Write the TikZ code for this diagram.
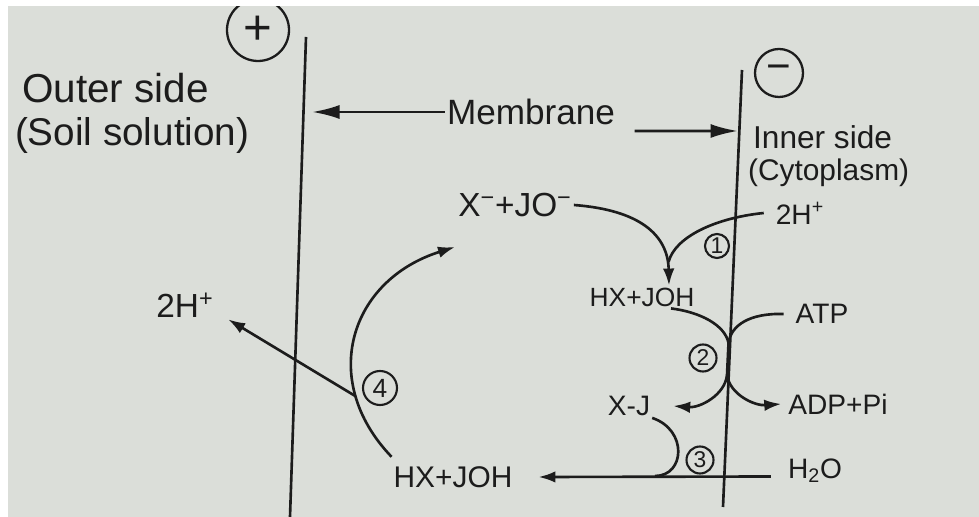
\documentclass[tikz,border=0pt]{standalone}
\usepackage{fontspec}
\setmainfont{Liberation Sans}
\usetikzlibrary{arrows.meta}
\definecolor{paper}{RGB}{219,222,217}
\definecolor{ink}{RGB}{28,28,28}
\newcommand{\fsz}[1]{\fontsize{#1}{#1}\selectfont}
\tikzset{
  pen/.style={line width=1.5pt, draw=ink},
  head/.style={-{Latex[length=3.4mm,width=2.3mm]}},
  bighead/.style={-{Latex[length=5.5mm,width=2.8mm]}},
  lbl/.style={inner sep=1pt, text=ink},
  numc/.style={circle, pen, line width=1.2pt, inner sep=0pt, minimum size=5.4mm, text=ink, font=\fsz{13}}
}
\begin{document}
\begin{tikzpicture}
    % Paper
    \fill[paper] (0,0) rectangle (19.58,10.34);
    \useasboundingbox (0,0) rectangle (19.58,10.34);
    % Membranes
    \coordinate (outTop) at (6.12,9.60);
    \coordinate (outBot) at (5.80,0);
    \coordinate (inTop) at (14.84,8.94);
    \coordinate (inBot) at (14.46,0.20);
    \draw[pen] (outTop) -- (outBot);
    \draw[pen] (inTop) -- (inBot);
    % Charges
    \node[circle, pen, line width=1.3pt, minimum size=12.4mm, inner sep=0pt, text=ink, font=\fsz{28}] (plus) at (5.16,9.74) {+};
    \node[circle, pen, line width=1.3pt, minimum size=9.6mm, inner sep=0pt, text=ink, font=\fsz{24}] (minus) at (15.58,8.88) {−};
    % Sides
    \node[lbl, anchor=west, font=\fsz{23}] (outer) at (0.40,8.58) {Outer side};
    \node[lbl, anchor=west, font=\fsz{22}] (soil) at (0.26,7.62) {(Soil solution)};
    \node[lbl, anchor=west, font=\fsz{18}] (inner) at (15.02,7.60) {Inner side};
    \node[lbl, anchor=west, font=\fsz{17}] (cyto) at (14.92,6.88) {(Cytoplasm)};
    \node[lbl, font=\fsz{20}] (memb) at (10.62,8.10) {Membrane};
    \coordinate (lm) at (6.24,8.10);
    \coordinate (rm) at (14.76,7.72);
    \draw[pen, bighead] (memb.west) -- (lm);
    \draw[pen, bighead] ([xshift=3.5mm,yshift=-3.8mm]memb.east) -- (rm);
    % Species
    \node[lbl, font=\fsz{19}] (anions) at (10.30,6.24) {X\textsuperscript{−}+JO\textsuperscript{−}};
    \node[lbl, font=\fsz{16}] (hin) at (16.00,6.08) {2H\textsuperscript{+}};
    \node[lbl, font=\fsz{15}] (hxa) at (12.84,4.40) {HX+JOH};
    \node[lbl, font=\fsz{16}] (atp) at (16.44,4.06) {ATP};
    \node[lbl, font=\fsz{16}] (adp) at (16.76,2.26) {ADP+Pi};
    \node[lbl, font=\fsz{16}] (xj) at (12.58,2.22) {X-J};
    \node[lbl, font=\fsz{16}] (water) at (16.30,0.93) {H\textsubscript{2}O};
    \node[lbl, font=\fsz{17}] (hxb) at (9.06,0.80) {HX+JOH};
    \node[lbl, font=\fsz{19}] (hout) at (3.70,4.24) {2H\textsuperscript{+}};
    % Step 1
    \coordinate (j1) at (13.37,5.10);
    \draw[pen, head] (anions.east) .. controls (12.80,6.14) and (13.36,5.64) .. ([xshift=5.4mm]hxa.north);
    \draw[pen] ([xshift=-2mm]hin.west) .. controls (14.30,5.98) and (13.50,5.60) .. (j1);
    \node[numc, minimum size=4.8mm] (n1) at (14.34,5.42) {1};
    % Step 2
    \coordinate (j2) at (14.57,3.48);
    \coordinate (j3) at (14.54,2.84);
    \draw[pen] ([xshift=5.8mm]hxa.south) .. controls (14.00,4.10) and (14.50,3.84) .. (j2);
    \draw[pen] ([xshift=-2mm]atp.west) .. controls (15.00,4.08) and (14.62,3.84) .. (j2);
    \draw[pen] (j2) -- (j3);
    \draw[pen, head] (j3) .. controls (14.50,2.44) and (14.00,2.18) .. ([xshift=4.2mm]xj.east);
    \draw[pen, head] (j3) .. controls (14.60,2.44) and (15.10,2.22) .. ([xshift=-1mm]adp.west);
    \node[numc] (n2) at (14.06,3.18) {2};
    % Step 3
    \coordinate (j4) at (13.10,0.82);
    \draw[pen] (xj.south east) .. controls (13.76,1.74) and (13.70,0.82) .. (j4);
    \draw[pen, head] ([xshift=-3mm,yshift=-1.2mm]water.west) -- ([xshift=4.8mm]hxb.east);
    \node[numc] (n3) at (14.00,1.14) {3};
    % Step 4
    \coordinate (t4) at (9.10,5.40);
    \draw[pen, head] ([yshift=1.5mm]hxb.north west) .. controls (6.36,2.74) and (7.00,4.74) .. (t4) coordinate[pos=0.25] (k4);
    \draw[pen, head] (k4) -- ([xshift=2.5mm]hout.south east);
    \node[numc, minimum size=6.8mm, font=\fsz{15}] (n4) at (7.60,2.58) {4};
    % Photo edges
    \fill[white] (0,0) rectangle (0.16,10.34);
    \fill[white] (0,10.22) rectangle (19.58,10.34);
\end{tikzpicture}
\end{document}
